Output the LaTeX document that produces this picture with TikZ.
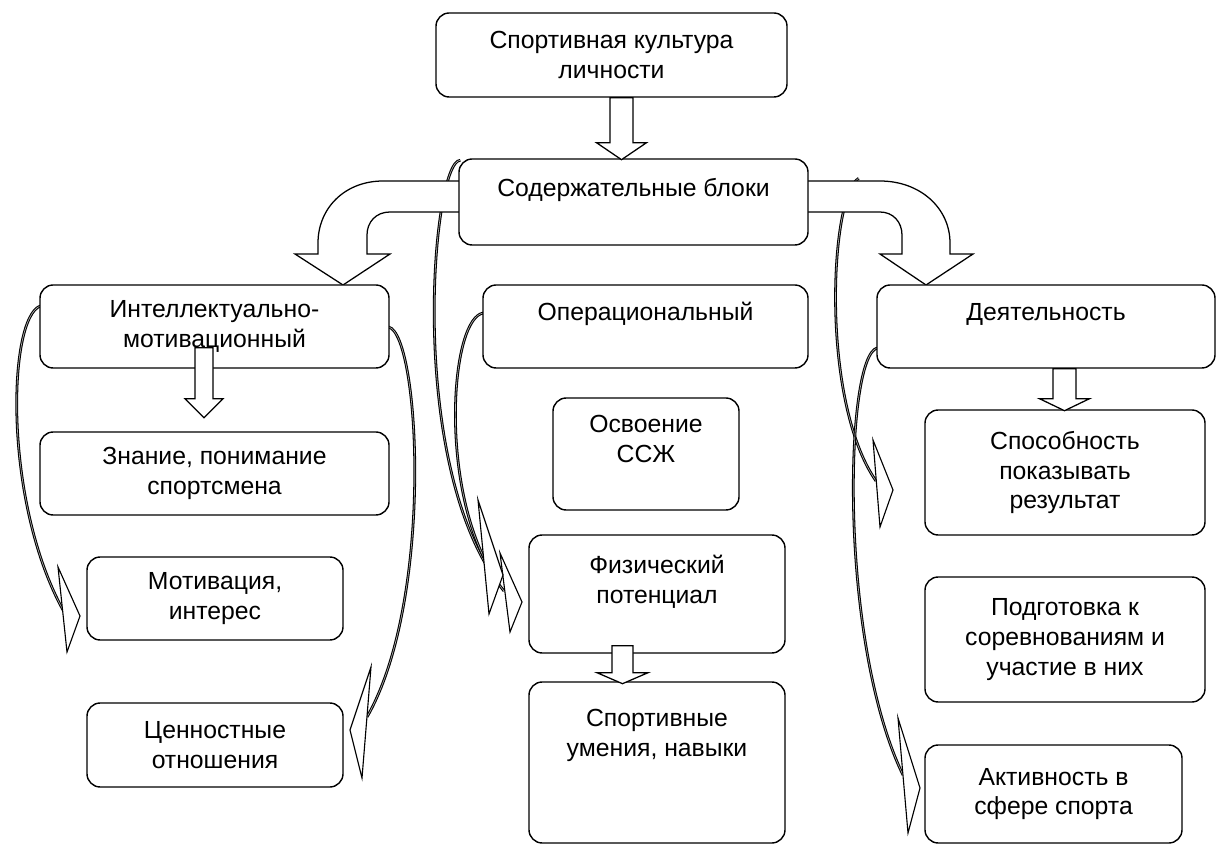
\documentclass[tikz,border=0pt]{standalone}
\usepackage{fontspec}
\setmainfont{Liberation Sans}
\usetikzlibrary{calc}

\tikzset{
	blk/.style 2 args={draw, rounded corners=0.33cm, line width=1pt, fill=white, align=center, inner sep=0pt,
		minimum width=#1*0.025cm, minimum height=#2*0.025cm},
	hollow/.style={draw, line width=0.9pt, fill=white, line join=miter},
	thinarr/.style={line width=0.75pt, double=gray!60, double distance=0.45pt},
	chev/.style={draw, line width=0.8pt, fill=white, line join=miter}
}

% hollow block arrow pointing down: top centre, shaft, half shaft, half head, head
\newcommand{\hollowdown}[5]{\draw[hollow] #1 ++(-#3,0) -- ++(0,#2) -- ++(#3-#4,0) -- ++(#4,#5) -- ++(#4,-#5) -- ++(#3-#4,0) -- ++(0,-#2) -- cycle;}

\begin{document}
\begin{tikzpicture}[x=0.025cm, y=-0.025cm, font=\fontsize{17.6}{21.2}\selectfont]
	\useasboundingbox (0,0) rectangle (1217,845);

	% invisible anchors first (boxes are drawn later on top)
	\path (611.5,55) node[blk={351}{84}, draw=none, fill=none](kult){}
		(633.5,202) node[blk={349}{86}, draw=none, fill=none](sod){}
		(214.5,326.5) node[blk={349}{83}, draw=none, fill=none](intl){}
		(645.5,326.5) node[blk={325}{83}, draw=none, fill=none](oper){}
		(1046,326.5) node[blk={338}{83}, draw=none, fill=none](deyat){};

	\coordinate (ca) at (63,610);
	\coordinate (cb) at (367,717);
	\coordinate (cc) at (504,591);
	\coordinate (cd) at (485,560);
	\coordinate (ce) at (876,481);
	\coordinate (cf) at (903,775);

	% thin curved arrows
	\draw[thinarr] ($(intl.west)+(1,-20.5)$) .. controls (8,318) and (3,500) .. (ca);
	\draw[thinarr] ($(intl.east)+(-1,0.5)$) .. controls (420,335) and (434,600) .. (cb);
	\draw[thinarr] ($(sod.north west)+(2,2)$) .. controls (432,160) and (405,470) .. (cc);
	\draw[thinarr] ($(oper.west)+(1,-13.5)$) .. controls (452,318) and (440,470) .. (cd);
	\draw[thinarr] ($(sod.north east)+(50,20)$) .. controls (830,195) and (820,400) .. (ce);
	\draw[thinarr] ($(deyat.west)+(1,21.5)$) .. controls (845,355) and (838,640) .. (cf);
	\draw[chev] (58,567) -- (80,616) -- (67,652) -- cycle;
	\draw[chev] (371,667) -- (350,730) -- (362,778) -- cycle;
	\draw[chev] (500,553) -- (522,602) -- (510,632) -- cycle;
	\draw[chev] (478,500) -- (503,575) -- (489,614) -- cycle;
	\draw[chev] (873,440) -- (893,490) -- (880,527) -- cycle;
	\draw[chev] (898,718) -- (920,788) -- (908,833) -- cycle;

	% bent arrows
	\draw[hollow] (459,181) -- (383,181) .. controls (345,181) and (318,208) .. (318,243) -- (318,254) -- (295,254) -- (343,285) -- (390,254) -- (367,254) -- (367,235) .. controls (367,222) and (376,212) .. (390,212) -- (459,212);
	\draw[hollow] (808,181) -- (880,181) .. controls (920,181) and (950,208) .. (950,243) -- (950,254) -- (973,254) -- (926,285) -- (880,254) -- (902,254) -- (902,235) .. controls (902,222) and (893,212) .. (880,212) -- (808,212);

	% boxes
	\node[blk={351}{84}] at (kult) {Спортивная культура\\личности};
	\node[blk={349}{86}] at (sod) {Содержательные блоки\\~};
	\node[blk={349}{83}] at (intl) {Интеллектуально-\\мотивационный};
	\node[blk={325}{83}] at (oper) {Операциональный\\~};
	\node[blk={338}{83}] at (deyat) {Деятельность\\~};
	\node[blk={349}{83}](znan) at (214.5,473.5) {Знание, понимание\\спортсмена};
	\node[blk={256}{83}](motiv) at (215,598.5) {Мотивация,\\интерес};
	\node[blk={256}{84}](cenn) at (215,745) {Ценностные\\отношения};
	\node[blk={186}{112}](osv) at (646,454) {Освоение\\ССЖ\\~};
	\node[blk={256}{118}](fiz) at (657,594) {Физический\\потенциал\\~};
	\node[blk={256}{161}](sport) at (657,762.5) {Спортивные\\умения, навыки\\~\\~};
	\node[blk={280}{125}](sposob) at (1065,472.5) {Способность\\показывать\\результат};
	\node[blk={280}{125}](podg) at (1065,639.5) {Подготовка к\\соревнованиям и\\участие в них};
	\node[blk={257}{98}](aktiv) at (1053.5,794) {Активность в\\сфере спорта};

	% straight block arrows
	\hollowdown{($(kult.south)+(10,0)$)}{45}{11.5}{25}{17}
	\hollowdown{($(intl.south)+(-10.5,-21)$)}{51}{9}{19}{19}
	\hollowdown{($(deyat.south)+(18.5,0)$)}{30}{11.5}{25}{12}
	\hollowdown{($(fiz.south)+(-34.5,-8)$)}{27}{10.5}{25.5}{11}
\end{tikzpicture}
\end{document}
